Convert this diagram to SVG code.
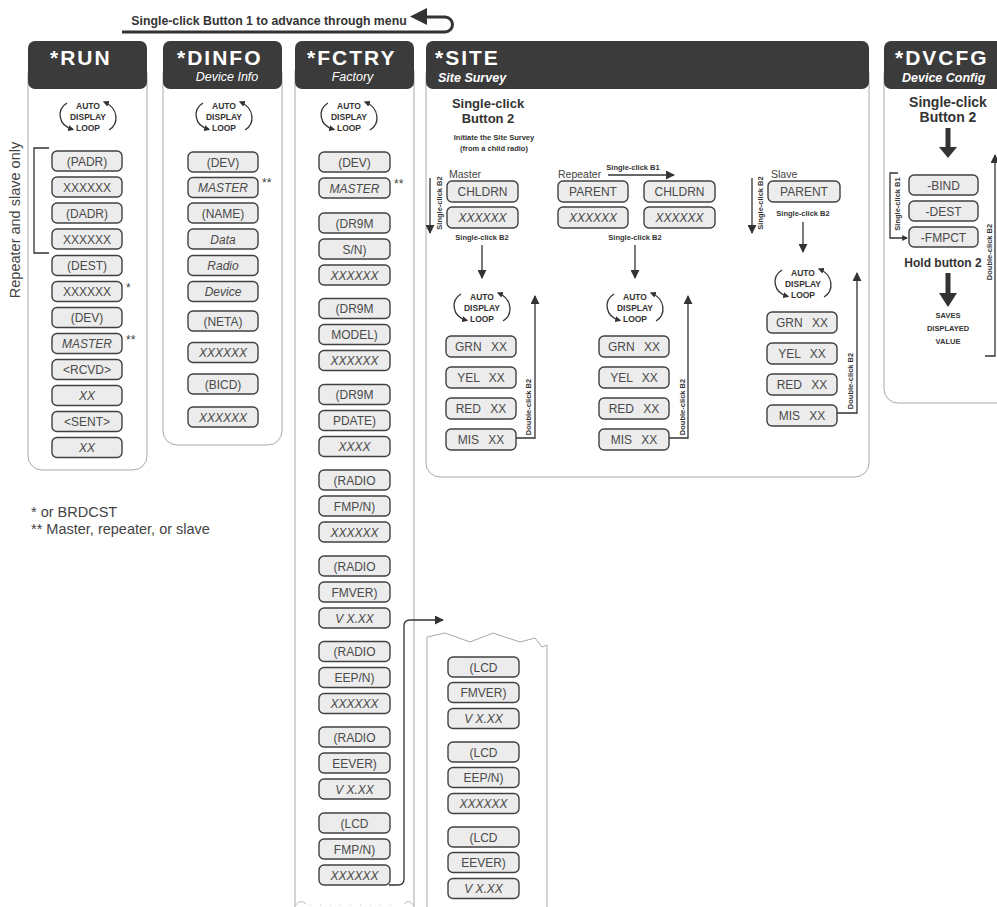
<svg xmlns="http://www.w3.org/2000/svg" width="997" height="907" viewBox="0 0 997 907">
<style>
.col{fill:#fff;stroke:#a8a8a8;stroke-width:1}
.hd{fill:#3b3b3b}
.ht{font-family:'Liberation Sans',Arial,sans-serif;font-weight:bold;font-size:21px;letter-spacing:2px;fill:#fff}
.hs{font-family:'Liberation Sans',Arial,sans-serif;font-style:italic;font-size:12.5px;fill:#fff;text-anchor:middle}
.hsb{font-weight:bold;text-anchor:start}
.bx{fill:#ececec;stroke:#404040;stroke-width:1.4}
.bt{font-family:'Liberation Sans',Arial,sans-serif;font-size:12px;fill:#4a4a4a;text-anchor:middle}
.i{font-style:italic}
.gx{word-spacing:6px}
.lp{font-family:'Liberation Sans',Arial,sans-serif;font-weight:bold;font-size:8.5px;fill:#333;text-anchor:middle}
.ln{fill:none;stroke:#333;stroke-width:1.3}
.lb{font-family:'Liberation Sans',Arial,sans-serif;font-weight:bold;font-size:7.5px;fill:#333;text-anchor:middle}
.bb{font-family:'Liberation Sans',Arial,sans-serif;font-weight:bold;fill:#333;text-anchor:middle}
.lab{font-family:'Liberation Sans',Arial,sans-serif;font-size:10.5px;fill:#444}
.ft{font-family:'Liberation Sans',Arial,sans-serif;font-size:14.5px;fill:#444}
.ast{font-family:'Liberation Sans',Arial,sans-serif;font-size:12px;fill:#444}
</style>
<defs>
<marker id="ah" viewBox="0 0 10 10" refX="9" refY="5" markerWidth="9" markerHeight="9" markerUnits="userSpaceOnUse" orient="auto"><path d="M0,0 L10,5 L0,10 z" fill="#333"/></marker>
<marker id="as" viewBox="0 0 10 10" refX="8" refY="5" markerWidth="6" markerHeight="6" markerUnits="userSpaceOnUse" orient="auto"><path d="M0,0 L10,5 L0,10 z" fill="#333"/></marker>
<g id="loop">
<text class="lp" y="-7.5">AUTO</text>
<text class="lp" y="3.5">DISPLAY</text>
<text class="lp" y="14.5">LOOP</text>
<path class="ln" stroke-width="1.1" d="M-21,-13 C-31,-7 -31,9 -15,13.5" marker-end="url(#as)"/>
<path class="ln" stroke-width="1.1" d="M21,14 C31,8 31,-8 16,-14" marker-end="url(#as)"/>
</g>
</defs>

<!-- top instruction -->
<g id="advance">
<text class="bb" x="269" y="25" font-size="12.3">Single-click Button 1 to advance through menu</text>
<path d="M122,32 H445 A7.5,7.5 0 0 0 445,17 H424" fill="none" stroke="#333" stroke-width="3"/>
<polygon points="410,16.5 427,8 427,25" fill="#333"/>
</g>

<!-- column frames -->
<g id="frames">
<rect class="col" x="28" y="60" width="119" height="410" rx="14"/>
<rect class="col" x="163" y="60" width="119" height="385" rx="14"/>
<path class="col" d="M295,70 V907 M414,70 V907"/>
<path d="M295,906 Q300,898 306,904 M404,904 Q409,898 414,906" fill="none" stroke="#bbb" stroke-width="1"/>
<path d="M310,905 H400" fill="none" stroke="#ccc" stroke-width="1" stroke-dasharray="1 9"/>
<rect class="col" x="426" y="60" width="443" height="417" rx="14"/>
<rect class="col" x="884" y="60" width="130" height="343" rx="14"/>
<path class="col" d="M427,907 V637 L445,633 L470,642 L493,633 L520,642 L535,638 L542,647 L547,645 V907"/>
</g>

<!-- headers -->
<g id="hdr-run"><rect class="hd" x="28" y="41" width="119" height="48" rx="7"/><text class="ht" x="50" y="64.5">*RUN</text></g>
<g id="hdr-dinfo"><rect class="hd" x="163" y="41" width="119" height="48" rx="7"/><text class="ht" x="177" y="64.5">*DINFO</text><text class="hs" x="227" y="81">Device Info</text></g>
<g id="hdr-fctry"><rect class="hd" x="295" y="41" width="119" height="48" rx="7"/><text class="ht" x="307" y="64.5">*FCTRY</text><text class="hs" x="352.5" y="81">Factory</text></g>
<g id="hdr-site"><rect class="hd" x="426" y="41" width="443" height="48" rx="7"/><text class="ht" x="435" y="65">*SITE</text><text class="hs hsb" x="438" y="82">Site Survey</text></g>
<g id="hdr-dvcfg"><rect class="hd" x="884" y="41" width="130" height="48" rx="7"/><text class="ht" x="895" y="65">*DVCFG</text><text class="hs hsb" x="902" y="82" font-size="12.5">Device Config</text></g>

<!-- loops -->
<use href="#loop" transform="translate(88,116)"/>
<use href="#loop" transform="translate(224,116)"/>
<use href="#loop" transform="translate(349,116)"/>
<use href="#loop" transform="translate(482,307)"/>
<use href="#loop" transform="translate(635,307)"/>
<use href="#loop" transform="translate(803,283)"/>

<!-- RUN column -->
<g id="run-note">
<text class="ft" font-size="13" transform="translate(20,220) rotate(-90)" text-anchor="middle">Repeater and slave only</text>
<path class="ln" stroke-width="1.2" d="M49,148 H34 V253 H49"/>
</g>
<g id="run-padr"><rect class="bx" x="52" y="151" width="70" height="20" rx="5"/><text class="bt" x="87" y="165.5">(PADR)</text></g>
<g id="run-padr-v"><rect class="bx" x="52" y="177" width="70" height="20" rx="5"/><text class="bt" x="87" y="191.5">XXXXXX</text></g>
<g id="run-dadr"><rect class="bx" x="52" y="203" width="70" height="20" rx="5"/><text class="bt" x="87" y="217.5">(DADR)</text></g>
<g id="run-dadr-v"><rect class="bx" x="52" y="229" width="70" height="20" rx="5"/><text class="bt" x="87" y="243.5">XXXXXX</text></g>
<g id="run-dest"><rect class="bx" x="52" y="255.5" width="70" height="20" rx="5"/><text class="bt" x="87" y="270">(DEST)</text></g>
<g id="run-dest-v"><rect class="bx" x="52" y="281.5" width="70" height="20" rx="5"/><text class="bt" x="87" y="296">XXXXXX</text><text class="ast" x="126" y="292">*</text></g>
<g id="run-dev"><rect class="bx" x="52" y="307.5" width="70" height="20" rx="5"/><text class="bt" x="87" y="322">(DEV)</text></g>
<g id="run-dev-v"><rect class="bx" x="52" y="333.5" width="70" height="20" rx="5"/><text class="bt i" x="87" y="348">MASTER</text><text class="ast" x="126" y="344">**</text></g>
<g id="run-rcvd"><rect class="bx" x="52" y="359.5" width="70" height="20" rx="5"/><text class="bt" x="87" y="374">&lt;RCVD&gt;</text></g>
<g id="run-rcvd-v"><rect class="bx" x="52" y="385.5" width="70" height="20" rx="5"/><text class="bt i" x="87" y="400">XX</text></g>
<g id="run-sent"><rect class="bx" x="52" y="411.5" width="70" height="20" rx="5"/><text class="bt" x="87" y="426">&lt;SENT&gt;</text></g>
<g id="run-sent-v"><rect class="bx" x="52" y="437.5" width="70" height="20" rx="5"/><text class="bt i" x="87" y="452">XX</text></g>

<g id="footnotes">
<text class="ft" x="31" y="517">* or BRDCST</text>
<text class="ft" x="31" y="534">** Master, repeater, or slave</text>
</g>

<!-- DINFO column -->
<g id="dinfo-dev"><rect class="bx" x="188" y="152" width="70" height="20" rx="5"/><text class="bt" x="223" y="166.5">(DEV)</text></g>
<g id="dinfo-dev-v"><rect class="bx" x="188" y="177.5" width="70" height="20" rx="5"/><text class="bt i" x="223" y="192">MASTER</text><text class="ast" x="262" y="187">**</text></g>
<g id="dinfo-name"><rect class="bx" x="188" y="203" width="70" height="20" rx="5"/><text class="bt" x="223" y="217.5">(NAME)</text></g>
<g id="dinfo-data"><rect class="bx" x="188" y="229" width="70" height="20" rx="5"/><text class="bt i" x="223" y="243.5">Data</text></g>
<g id="dinfo-radio"><rect class="bx" x="188" y="255.5" width="70" height="20" rx="5"/><text class="bt i" x="223" y="270">Radio</text></g>
<g id="dinfo-device"><rect class="bx" x="188" y="281.5" width="70" height="20" rx="5"/><text class="bt i" x="223" y="296">Device</text></g>
<g id="dinfo-neta"><rect class="bx" x="188" y="311" width="70" height="20" rx="5"/><text class="bt" x="223" y="325.5">(NETA)</text></g>
<g id="dinfo-neta-v"><rect class="bx" x="188" y="342.5" width="70" height="20" rx="5"/><text class="bt i" x="223" y="357">XXXXXX</text></g>
<g id="dinfo-bicd"><rect class="bx" x="188" y="374" width="70" height="20" rx="5"/><text class="bt" x="223" y="388.5">(BICD)</text></g>
<g id="dinfo-bicd-v"><rect class="bx" x="188" y="407" width="70" height="20" rx="5"/><text class="bt i" x="223" y="421.5">XXXXXX</text></g>

<!-- FCTRY column -->
<g id="f-dev"><rect class="bx" x="319" y="152" width="71" height="20" rx="5"/><text class="bt" x="354.5" y="166.5">(DEV)</text></g>
<g id="f-dev-v"><rect class="bx" x="319" y="178" width="71" height="20" rx="5"/><text class="bt i" x="354.5" y="192.5">MASTER</text><text class="ast" x="394" y="188">**</text></g>
<g id="f-sn1"><rect class="bx" x="319" y="213" width="71" height="20" rx="5"/><text class="bt" x="354.5" y="227.5">(DR9M</text></g>
<g id="f-sn2"><rect class="bx" x="319" y="239" width="71" height="20" rx="5"/><text class="bt" x="354.5" y="253.5">S/N)</text></g>
<g id="f-sn3"><rect class="bx" x="319" y="265" width="71" height="20" rx="5"/><text class="bt i" x="354.5" y="279.5">XXXXXX</text></g>
<g id="f-md1"><rect class="bx" x="319" y="298.5" width="71" height="20" rx="5"/><text class="bt" x="354.5" y="313">(DR9M</text></g>
<g id="f-md2"><rect class="bx" x="319" y="324.5" width="71" height="20" rx="5"/><text class="bt" x="354.5" y="339">MODEL)</text></g>
<g id="f-md3"><rect class="bx" x="319" y="350.5" width="71" height="20" rx="5"/><text class="bt i" x="354.5" y="365">XXXXXX</text></g>
<g id="f-pd1"><rect class="bx" x="319" y="384.5" width="71" height="20" rx="5"/><text class="bt" x="354.5" y="399">(DR9M</text></g>
<g id="f-pd2"><rect class="bx" x="319" y="410.5" width="71" height="20" rx="5"/><text class="bt" x="354.5" y="425">PDATE)</text></g>
<g id="f-pd3"><rect class="bx" x="319" y="436.5" width="71" height="20" rx="5"/><text class="bt i" x="354.5" y="451">XXXX</text></g>
<g id="f-rf1"><rect class="bx" x="319" y="470" width="71" height="20" rx="5"/><text class="bt" x="354.5" y="484.5">(RADIO</text></g>
<g id="f-rf2"><rect class="bx" x="319" y="496" width="71" height="20" rx="5"/><text class="bt" x="354.5" y="510.5">FMP/N)</text></g>
<g id="f-rf3"><rect class="bx" x="319" y="522" width="71" height="20" rx="5"/><text class="bt i" x="354.5" y="536.5">XXXXXX</text></g>
<g id="f-rv1"><rect class="bx" x="319" y="556" width="71" height="20" rx="5"/><text class="bt" x="354.5" y="570.5">(RADIO</text></g>
<g id="f-rv2"><rect class="bx" x="319" y="582" width="71" height="20" rx="5"/><text class="bt" x="354.5" y="596.5">FMVER)</text></g>
<g id="f-rv3"><rect class="bx" x="319" y="608" width="71" height="20" rx="5"/><text class="bt i" x="354.5" y="622.5">V X.XX</text></g>
<g id="f-re1"><rect class="bx" x="319" y="641.5" width="71" height="20" rx="5"/><text class="bt" x="354.5" y="656">(RADIO</text></g>
<g id="f-re2"><rect class="bx" x="319" y="667.5" width="71" height="20" rx="5"/><text class="bt" x="354.5" y="682">EEP/N)</text></g>
<g id="f-re3"><rect class="bx" x="319" y="693.5" width="71" height="20" rx="5"/><text class="bt i" x="354.5" y="708">XXXXXX</text></g>
<g id="f-ee1"><rect class="bx" x="319" y="727" width="71" height="20" rx="5"/><text class="bt" x="354.5" y="741.5">(RADIO</text></g>
<g id="f-ee2"><rect class="bx" x="319" y="753" width="71" height="20" rx="5"/><text class="bt" x="354.5" y="767.5">EEVER)</text></g>
<g id="f-ee3"><rect class="bx" x="319" y="779" width="71" height="20" rx="5"/><text class="bt i" x="354.5" y="793.5">V X.XX</text></g>
<g id="f-lf1"><rect class="bx" x="319" y="813" width="71" height="20" rx="5"/><text class="bt" x="354.5" y="827.5">(LCD</text></g>
<g id="f-lf2"><rect class="bx" x="319" y="839" width="71" height="20" rx="5"/><text class="bt" x="354.5" y="853.5">FMP/N)</text></g>
<g id="f-lf3"><rect class="bx" x="319" y="865" width="71" height="20" rx="5"/><text class="bt i" x="354.5" y="879.5">XXXXXX</text></g>

<!-- continuation -->
<g id="c-lv1"><rect class="bx" x="448" y="657" width="71" height="20" rx="5"/><text class="bt" x="483.5" y="671.5">(LCD</text></g>
<g id="c-lv2"><rect class="bx" x="448" y="682.5" width="71" height="20" rx="5"/><text class="bt" x="483.5" y="697">FMVER)</text></g>
<g id="c-lv3"><rect class="bx" x="448" y="708.5" width="71" height="20" rx="5"/><text class="bt i" x="483.5" y="723">V X.XX</text></g>
<g id="c-le1"><rect class="bx" x="448" y="742" width="71" height="20" rx="5"/><text class="bt" x="483.5" y="756.5">(LCD</text></g>
<g id="c-le2"><rect class="bx" x="448" y="767.5" width="71" height="20" rx="5"/><text class="bt" x="483.5" y="782">EEP/N)</text></g>
<g id="c-le3"><rect class="bx" x="448" y="793.5" width="71" height="20" rx="5"/><text class="bt i" x="483.5" y="808">XXXXXX</text></g>
<g id="c-lee1"><rect class="bx" x="448" y="827" width="71" height="20" rx="5"/><text class="bt" x="483.5" y="841.5">(LCD</text></g>
<g id="c-lee2"><rect class="bx" x="448" y="852.5" width="71" height="20" rx="5"/><text class="bt" x="483.5" y="867">EEVER)</text></g>
<g id="c-lee3"><rect class="bx" x="448" y="878.5" width="71" height="20" rx="5"/><text class="bt i" x="483.5" y="893">V X.XX</text></g>

<!-- SITE -->
<g id="site-intro">
<text class="bb" x="488" y="108" font-size="13">Single-click</text>
<text class="bb" x="488" y="123" font-size="13">Button 2</text>
<text class="lb" x="494" y="140">Initiate the Site Survey</text>
<text class="lb" x="494" y="151">(from a child radio)</text>
</g>
<text class="lab" x="449" y="177.5">Master</text>
<text class="lab" x="558" y="177.5">Repeater</text>
<text class="lab" x="771" y="177.5">Slave</text>
<g id="m-chldrn"><rect class="bx" x="447" y="181" width="71" height="21" rx="5"/><text class="bt" x="482.5" y="196">CHLDRN</text></g>
<g id="m-chldrn-v"><rect class="bx" x="447" y="207" width="71" height="21" rx="5"/><text class="bt i" x="482.5" y="222">XXXXXX</text></g>
<g id="r-parent"><rect class="bx" x="558" y="181" width="70" height="21" rx="5"/><text class="bt" x="593" y="196">PARENT</text></g>
<g id="r-parent-v"><rect class="bx" x="558" y="207" width="70" height="21" rx="5"/><text class="bt i" x="593" y="222">XXXXXX</text></g>
<g id="r-chldrn"><rect class="bx" x="644" y="181" width="71" height="21" rx="5"/><text class="bt" x="679.5" y="196">CHLDRN</text></g>
<g id="r-chldrn-v"><rect class="bx" x="644" y="207" width="71" height="21" rx="5"/><text class="bt i" x="679.5" y="222">XXXXXX</text></g>
<g id="s-parent"><rect class="bx" x="768" y="181" width="72" height="21" rx="5"/><text class="bt" x="804" y="196">PARENT</text></g>

<g id="m-grn"><rect class="bx" x="446" y="336" width="70" height="21" rx="5"/><text class="bt gx" x="481" y="351">GRN XX</text></g>
<g id="m-yel"><rect class="bx" x="446" y="367" width="70" height="21" rx="5"/><text class="bt gx" x="481" y="382">YEL XX</text></g>
<g id="m-red"><rect class="bx" x="446" y="398" width="70" height="21" rx="5"/><text class="bt gx" x="481" y="413">RED XX</text></g>
<g id="m-mis"><rect class="bx" x="446" y="429" width="70" height="21" rx="5"/><text class="bt gx" x="481" y="444">MIS XX</text></g>
<g id="r-grn"><rect class="bx" x="599" y="336" width="70" height="21" rx="5"/><text class="bt gx" x="634" y="351">GRN XX</text></g>
<g id="r-yel"><rect class="bx" x="599" y="367" width="70" height="21" rx="5"/><text class="bt gx" x="634" y="382">YEL XX</text></g>
<g id="r-red"><rect class="bx" x="599" y="398" width="70" height="21" rx="5"/><text class="bt gx" x="634" y="413">RED XX</text></g>
<g id="r-mis"><rect class="bx" x="599" y="429" width="70" height="21" rx="5"/><text class="bt gx" x="634" y="444">MIS XX</text></g>
<g id="s-grn"><rect class="bx" x="767" y="312" width="70" height="21" rx="5"/><text class="bt gx" x="802" y="327">GRN XX</text></g>
<g id="s-yel"><rect class="bx" x="767" y="343" width="70" height="21" rx="5"/><text class="bt gx" x="802" y="358">YEL XX</text></g>
<g id="s-red"><rect class="bx" x="767" y="374" width="70" height="21" rx="5"/><text class="bt gx" x="802" y="389">RED XX</text></g>
<g id="s-mis"><rect class="bx" x="767" y="405" width="70" height="21" rx="5"/><text class="bt gx" x="802" y="420">MIS XX</text></g>

<!-- DVCFG -->
<g id="dv-intro">
<text class="bb" x="948" y="107" font-size="14">Single-click</text>
<text class="bb" x="948" y="122" font-size="14">Button 2</text>
<rect x="945.5" y="128" width="5" height="20" fill="#333"/>
<polygon points="939,147 957,147 948,158" fill="#333"/>
</g>
<g id="dv-bind"><rect class="bx" x="909" y="175" width="69" height="20" rx="5"/><text class="bt" x="943.5" y="189.5">-BIND</text></g>
<g id="dv-dest"><rect class="bx" x="909" y="201" width="69" height="20" rx="5"/><text class="bt" x="943.5" y="215.5">-DEST</text></g>
<g id="dv-fmpct"><rect class="bx" x="909" y="227" width="69" height="20" rx="5"/><text class="bt" x="943.5" y="241.5">-FMPCT</text></g>
<g id="dv-save">
<text class="bb" x="943" y="267" font-size="12">Hold button 2</text>
<rect x="945.5" y="273" width="5" height="21" fill="#333"/>
<polygon points="939,293 957,293 948,307" fill="#333"/>
<text class="lb" x="948" y="318">SAVES</text>
<text class="lb" x="948" y="331">DISPLAYED</text>
<text class="lb" x="948" y="344">VALUE</text>
</g>

<!-- connectors -->
<g id="connectors">
<path class="ln" d="M430,178 V233" marker-end="url(#ah)"/>
<text class="lb" transform="translate(442,203) rotate(-90)">Single-click B2</text>
<text class="lb" x="482" y="240">Single-click B2</text>
<path class="ln" d="M482,245 V278" marker-end="url(#ah)"/>
<path class="ln" d="M516,438 H535 V296" marker-end="url(#ah)"/>
<text class="lb" transform="translate(531,407) rotate(-90)">Double-click B2</text>

<text class="lb" x="633" y="170">Single-click B1</text>
<path class="ln" d="M608,175 H674" marker-end="url(#ah)"/>
<text class="lb" x="635" y="240">Single-click B2</text>
<path class="ln" d="M635,245 V278" marker-end="url(#ah)"/>
<path class="ln" d="M669,438 H688 V296" marker-end="url(#ah)"/>
<text class="lb" transform="translate(685,407) rotate(-90)">Double-click B2</text>

<path class="ln" d="M752,178 V233" marker-end="url(#ah)"/>
<text class="lb" transform="translate(763,203) rotate(-90)">Single-click B2</text>
<text class="lb" x="803" y="216">Single-click B2</text>
<path class="ln" d="M803,222 V252" marker-end="url(#ah)"/>
<path class="ln" d="M837,413 H857 V273" marker-end="url(#ah)"/>
<text class="lb" transform="translate(853,381) rotate(-90)">Double-click B2</text>

<path class="ln" d="M898,173 H890 V238 H907" marker-end="url(#as)"/>
<text class="lb" transform="translate(900,204) rotate(-90)">Single-click B1</text>
<path class="ln" d="M985,356 H995 V155" marker-end="url(#ah)"/>
<text class="lb" transform="translate(992,252) rotate(-90)">Double-click B2</text>

<path class="ln" d="M389,885 H398 Q404,885 404,879 V626 Q404,620 410,620 H443" marker-end="url(#ah)"/>
</g>
</svg>
